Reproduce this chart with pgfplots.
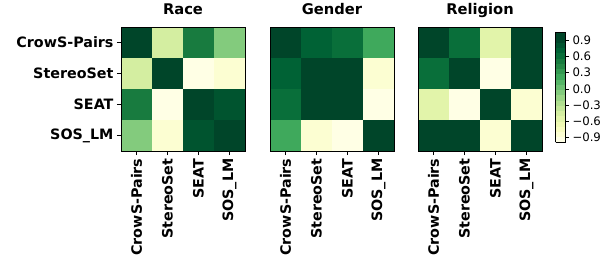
\documentclass[border=0pt]{standalone}
\usepackage{fontspec}
\setmainfont{DejaVu Sans}
\usepackage{pgfplots}
\pgfplotsset{compat=1.18}
\pgfplotsset{
  colormap={YlGnD}{
    rgb255=(255,255,229) rgb255=(252,254,210) rgb255=(248,252,192) rgb255=(239,249,179)
    rgb255=(226,244,170) rgb255=(212,238,161) rgb255=(194,230,152) rgb255=(175,222,143)
    rgb255=(154,213,134) rgb255=(131,203,125) rgb255=(108,192,115) rgb255=(85,181,103)
    rgb255=(63,169,92) rgb255=(51,153,81) rgb255=(38,136,70) rgb255=(24,123,63)
    rgb255=(9,111,58) rgb255=(0,98,53) rgb255=(0,84,47) rgb255=(0,69,41) rgb255=(0,69,41)
  },
  hm/.style={
    width=124bp, height=124bp, scale only axis,
    xmin=-0.5, xmax=3.5, ymin=-0.5, ymax=3.5, y dir=reverse,
    xtick={0,1,2,3}, xticklabels={CrowS-Pairs,StereoSet,SEAT,SOS\_LM},
    xticklabel style={rotate=90, anchor=east, font=\bfseries\fontsize{14.3bp}{16bp}\selectfont},
    yticklabel style={font=\bfseries\fontsize{14.3bp}{16bp}\selectfont},
    tick pos=left, tick align=outside, major tick length=4bp,
    tick style={black, line width=0.8bp},
    axis line style={black, line width=0.8bp},
    point meta min=-0.99, point meta max=1.05,
    colormap name=YlGnD, colormap access=piecewise constant,
    title style={at={(0.5,1)}, anchor=base, yshift=7bp, font=\bfseries\fontsize{14.7bp}{17bp}\selectfont},
    axis on top,
  }
}
\begin{document}
\begin{tikzpicture}
\useasboundingbox (-121bp,-111bp) rectangle (487bp,151bp);
\begin{axis}[hm, at={(0bp,0bp)}, anchor=south west, title={Race},
  ytick={0,1,2,3}, yticklabels={CrowS-Pairs,StereoSet,SEAT,SOS\_LM}]
\addplot[matrix plot*, mesh/cols=4, point meta=explicit] table[meta=c] {
x y c
0 0 1.00
1 0 -0.42
2 0 0.49
3 0 -0.09
0 1 -0.42
1 1 1.00
2 1 -0.95
3 1 -0.85
0 2 0.49
1 2 -0.95
2 2 1.00
3 2 0.78
0 3 -0.09
1 3 -0.85
2 3 0.78
3 3 1.00
};
\end{axis}
\begin{axis}[hm, at={(149bp,0bp)}, anchor=south west, title={Gender}, ytick=\empty]
\addplot[matrix plot*, mesh/cols=4, point meta=explicit] table[meta=c] {
x y c
0 0 1.00
1 0 0.69
2 0 0.59
3 0 0.18
0 1 0.69
1 1 1.00
2 1 1.00
3 1 -0.85
0 2 0.59
1 2 1.00
2 2 1.00
3 2 -0.95
0 3 0.18
1 3 -0.85
2 3 -0.95
3 3 1.00
};
\end{axis}
\begin{axis}[hm, at={(297bp,0bp)}, anchor=south west, title={Religion}, ytick=\empty,
  colorbar,
  colorbar style={
    at={(parent axis.south east)}, anchor=south west, xshift=5bp, yshift=8.7bp,
    width=10bp, height=110bp, scale only axis,
    ytick={-0.9,-0.6,-0.3,0,0.3,0.6,0.9},
    yticklabels={−0.9,−0.6,−0.3,0.0,0.3,0.6,0.9},
    yticklabel style={font=\fontsize{11.7bp}{14bp}\selectfont},
    ytick pos=right, yticklabel pos=right, tick align=outside, major tick length=3.5bp,
    tick style={black, line width=0.8bp},
    axis line style={black, line width=0.8bp},
  }]
\addplot[matrix plot*, mesh/cols=4, point meta=explicit] table[meta=c] {
x y c
0 0 1.00
1 0 0.60
2 0 -0.53
3 0 0.90
0 1 0.60
1 1 1.00
2 1 -0.95
3 1 0.90
0 2 -0.53
1 2 -0.95
2 2 1.00
3 2 -0.85
0 3 0.90
1 3 0.90
2 3 -0.85
3 3 1.00
};
\end{axis}
\end{tikzpicture}
\end{document}
